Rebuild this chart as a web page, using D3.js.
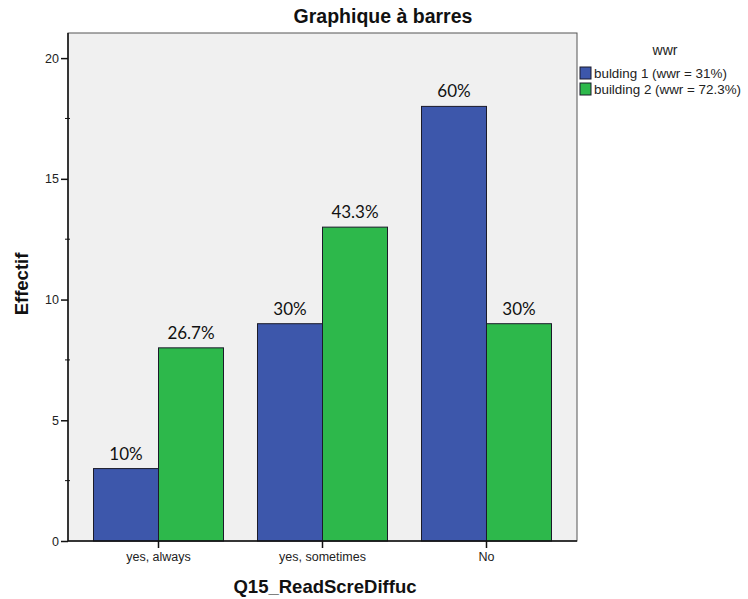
<!DOCTYPE html>
<html><head><meta charset="utf-8">
<script src="https://cdn.jsdelivr.net/npm/d3@7"></script>
<style>body{margin:0;background:#fff}</style>
</head><body>
<svg id="c" width="748" height="599"></svg>
<script>
const categories = ["yes, always", "yes, sometimes", "No"];
const seriesNames = ["bulding 1 (wwr = 31%)", "building 2 (wwr = 72.3%)"];
const building1 = [3, 9, 18];
const building2 = [8, 13, 9];
const labels1 = ["10%", "30%", "60%"];
const labels2 = ["26.7%", "43.3%", "30%"];
const yTicks = [0, 5, 10, 15, 20];
const yMinorTicks = [2.5, 7.5, 12.5, 17.5];
const colors = ["#3D57AB", "#2DB84B"];

const svg = d3.select("#c");
const pL = 68, pR = 577, pT = 33, pB = 541;
const sans = "'Liberation Sans', Arial, sans-serif";

const y = d3.scaleLinear().domain([0, 21.04]).range([pB, pT]);
const x = d3.scaleBand().domain(categories).range([pL, pR]).paddingInner(0.2073).paddingOuter(0.1555);
const xs = d3.scaleBand().domain([0, 1]).range([0, x.bandwidth()]);

svg.append("rect").attr("x", pL).attr("y", pT).attr("width", pR - pL).attr("height", pB - pT)
  .attr("fill", "#F0F0F0").attr("stroke", "#555").attr("stroke-width", 1);

const series = [building1, building2];
const labs = [labels1, labels2];

series.forEach((vals, si) => {
  svg.append("g").selectAll("text").data(vals).join("text")
    .attr("x", (d, i) => x(categories[i]) + xs(si) + xs.bandwidth() / 2)
    .attr("y", d => y(d) - 9)
    .attr("text-anchor", "middle")
    .attr("font-family", "Lato, 'Open Sans', sans-serif")
    .attr("font-size", 17)
    .attr("fill", "#111")
    .text((d, i) => labs[si][i]);
});

series.forEach((vals, si) => {
  svg.append("g").selectAll("rect").data(vals).join("rect")
    .attr("x", (d, i) => x(categories[i]) + xs(si))
    .attr("y", d => y(d))
    .attr("width", xs.bandwidth())
    .attr("height", d => pB - y(d))
    .attr("fill", colors[si])
    .attr("stroke", "#1b1b2a").attr("stroke-width", 1);
});

const yAxis = d3.axisLeft(y).tickValues(yTicks).tickSize(7).tickPadding(2).tickFormat(d3.format("d"));
const gy = svg.append("g").attr("transform", `translate(${pL},0)`).call(yAxis);
gy.select(".domain").remove();
gy.selectAll("text").attr("font-family", sans).attr("font-size", 12.5).attr("fill", "#222");
gy.selectAll("line").attr("stroke", "#111").attr("stroke-width", 1.5);
svg.append("g").selectAll("line").data(yMinorTicks).join("line")
  .attr("x1", pL - 3).attr("x2", pL + 2).attr("y1", d => y(d)).attr("y2", d => y(d))
  .attr("stroke", "#111");
svg.append("line").attr("x1", pL).attr("x2", pL).attr("y1", pT).attr("y2", pB).attr("stroke", "#111").attr("stroke-width", 1.5);

const xAxis = d3.axisBottom(x).tickSize(7).tickPadding(4);
const gx = svg.append("g").attr("transform", `translate(0,${pB})`).call(xAxis);
gx.select(".domain").remove();
gx.selectAll("text").attr("font-family", sans).attr("font-size", 12.5).attr("fill", "#222");
gx.selectAll("line").attr("stroke", "#111").attr("stroke-width", 1.5);
svg.append("line").attr("x1", pL).attr("x2", pR).attr("y1", pB).attr("y2", pB).attr("stroke", "#111").attr("stroke-width", 1.5);

svg.append("text").attr("x", 383).attr("y", 23).attr("text-anchor", "middle")
  .attr("font-family", sans).attr("font-weight", "bold").attr("font-size", 19.5)
  .attr("fill", "#111").text("Graphique à barres");
svg.append("text").attr("x", 325).attr("y", 593).attr("text-anchor", "middle")
  .attr("font-family", sans).attr("font-weight", "bold").attr("font-size", 18.5)
  .attr("fill", "#111").text("Q15_ReadScreDiffuc");
svg.append("text").attr("transform", `translate(28,284) rotate(-90)`).attr("text-anchor", "middle")
  .attr("font-family", sans).attr("font-weight", "bold").attr("font-size", 18.5)
  .attr("fill", "#111").text("Effectif");

svg.append("text").attr("x", 665).attr("y", 55).attr("text-anchor", "middle")
  .attr("font-family", sans).attr("font-size", 14).attr("fill", "#222").text("wwr");
const lg = svg.append("g").selectAll("g").data(seriesNames).join("g")
  .attr("transform", (d, i) => `translate(580,${67 + i * 16})`);
lg.append("rect").attr("width", 11).attr("height", 12).attr("fill", (d, i) => colors[i]).attr("stroke", "#1b1b2a");
lg.append("text").attr("x", 14).attr("y", 11).attr("font-family", sans)
  .attr("font-size", 13.4).attr("fill", "#222").text(d => d);
</script>
</body></html>
